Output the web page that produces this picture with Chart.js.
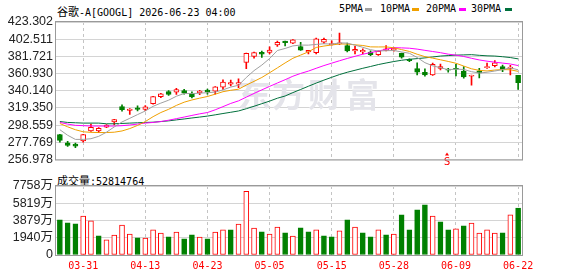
<!DOCTYPE html>
<html>
<head>
<meta charset="utf-8">
<script src="https://cdn.jsdelivr.net/npm/chart.js@4/dist/chart.umd.min.js"></script>
<style>
  html, body { margin: 0; padding: 0; background: #fff; }
  #wrap { position: relative; width: 578px; height: 276px; overflow: hidden; }
  canvas { position: absolute; left: 0; }
  .txt { position: absolute; font: 10px "DejaVu Sans Mono", monospace; color: #000; white-space: nowrap; line-height: 12px; }
  .cjk { font: 11px "Noto Sans CJK SC", sans-serif; }
  .sw { position: absolute; width: 7px; height: 3px; }
</style>
</head>
<body>
<div id="wrap">
  <div class="txt" style="left:57px; top:3px;"><span class="cjk">谷歌</span>-A[GOOGL] 2026-06-23 04:00</div>

  <div class="txt" style="left:339px; top:3px;">5PMA</div>
  <div class="sw" style="left:365px; top:8px; background:#a0a0a0;"></div>
  <div class="txt" style="left:380px; top:3px;">10PMA</div>
  <div class="sw" style="left:412px; top:8px; background:#f0a000;"></div>
  <div class="txt" style="left:426px; top:3px;">20PMA</div>
  <div class="sw" style="left:459px; top:8px; background:#ff00ff;"></div>
  <div class="txt" style="left:471px; top:3px;">30PMA</div>
  <div class="sw" style="left:505px; top:8px; background:#00703c;"></div>

  <canvas id="price" width="578" height="170" style="top:0;"></canvas>
  <div class="txt" style="left:57px; top:172px;"><span class="cjk">成交量</span>:52814764</div>
  <canvas id="vol" width="578" height="106" style="top:170px;"></canvas>
</div>

<script>
// ---- data ----
const dates = [
  "03-26","03-27","03-30","03-31","04-01","04-02","04-06","04-07","04-08","04-09",
  "04-10","04-13","04-14","04-15","04-16","04-17","04-20","04-21","04-22","04-23",
  "04-24","04-27","04-28","04-29","04-30","05-01","05-04","05-05","05-06","05-07",
  "05-08","05-11","05-12","05-13","05-14","05-15","05-18","05-19","05-20","05-21",
  "05-22","05-26","05-27","05-28","05-29","06-01","06-02","06-03","06-04","06-05",
  "06-08","06-09","06-10","06-11","06-12","06-15","06-16","06-17","06-18","06-22"
];
const xTickLabels = ["03-31","04-13","04-23","05-05","05-15","05-28","06-09","06-22"];

const open = [
  287.1,277.1,275.5,279.4,291.4,291.4,296.0,302.5,321.0,316.4,
  319.5,317.6,324.5,333.0,339.2,338.4,340.3,336.9,337.7,341.1,
  339.5,344.6,348.0,348.1,374.5,381.6,386.6,386.6,395.5,400.1,
  397.8,393.6,387.0,386.2,399.0,395.9,396.9,394.7,388.2,387.0,
  387.0,383.9,388.9,389.3,385.5,378.1,367.0,362.3,359.2,367.3,
  366.2,367.3,363.9,357.7,364.2,368.1,370.4,369.3,367.3,358.8
];
const high = [
  287.5,279.0,276.7,287.5,299.8,295.5,299.2,305.5,323.0,318.5,
  321.8,322.2,333.5,337.0,340.3,343.0,341.9,338.8,340.5,342.3,
  345.3,353.4,353.1,354.6,385.8,387.0,388.1,393.2,400.1,400.1,
  402.0,398.6,389.0,404.0,404.0,400.5,410.0,397.8,394.0,390.9,
  388.5,388.5,394.7,392.4,385.8,378.9,373.9,366.6,373.5,372.3,
  367.3,372.0,369.3,359.2,367.3,373.5,376.6,371.2,370.8,358.8
];
const low = [
  277.9,272.8,271.3,277.9,291.0,289.4,295.5,298.7,315.3,311.4,
  315.7,316.0,324.0,331.9,334.6,335.7,336.1,331.5,335.3,336.1,
  336.1,341.8,346.1,343.8,366.9,379.7,380.4,384.7,393.9,394.3,
  397.0,389.0,384.7,384.7,397.4,395.3,395.9,387.0,384.7,384.7,
  382.5,383.0,388.2,388.0,379.7,375.4,359.2,357.7,358.8,365.4,
  362.7,358.1,355.4,346.9,355.8,367.0,368.9,363.1,359.2,341.9
];
const close = [
  280.2,274.0,273.2,287.1,296.0,294.8,298.7,305.2,317.2,318.0,
  317.6,320.7,333.0,336.5,335.7,341.5,337.2,332.6,339.8,338.8,
  344.8,350.7,349.9,350.0,385.5,386.2,384.3,389.3,398.6,398.2,
  401.7,389.3,388.9,402.8,402.4,397.0,397.4,388.2,390.1,389.0,
  383.9,387.8,390.9,391.6,380.8,376.6,362.7,359.2,372.0,369.3,
  365.0,366.2,356.9,358.5,361.6,369.3,373.9,365.4,368.9,350.0
];

const ma5 = [
  293.0,286.3,281.3,281.3,282.1,285.0,290.0,296.4,302.4,306.8,
  311.3,315.7,321.3,325.2,328.7,333.5,336.8,336.7,337.2,337.8,
  338.5,341.2,344.6,346.8,356.2,364.5,371.2,379.1,388.8,391.3,
  394.4,395.4,395.3,396.2,397.0,396.5,398.0,397.8,395.3,392.7,
  389.8,388.2,388.6,388.8,387.1,385.5,380.4,374.1,370.3,368.0,
  365.6,366.3,365.9,363.2,361.6,362.5,364.0,365.7,367.8,365.5
];
const ma10 = [
  300.5,296.5,293.0,290.5,289.8,289.6,289.6,290.0,291.5,294.4,
  298.2,302.9,308.8,313.8,317.7,322.4,326.3,329.0,331.2,333.2,
  336.0,339.0,340.7,342.0,347.0,351.5,356.2,361.9,367.8,373.8,
  379.4,383.3,387.2,392.5,394.2,395.5,396.7,396.6,395.7,394.9,
  393.2,393.1,393.2,392.1,389.9,387.7,384.3,381.4,379.6,377.6,
  375.6,373.4,370.0,366.7,364.8,364.1,365.2,365.8,365.5,363.6
];
const ma20 = [
  301.8,299.8,298.3,297.9,297.5,297.5,297.5,297.5,297.9,298.7,
  299.8,301.0,301.8,302.9,304.5,306.4,308.3,310.3,312.2,313.8,
  317.1,320.9,324.8,327.9,332.4,336.9,341.2,345.4,349.5,353.5,
  357.7,361.1,363.9,367.3,370.6,373.5,376.4,379.2,381.8,384.3,
  386.3,388.2,390.2,392.3,392.0,391.6,390.5,389.0,387.6,386.2,
  384.4,383.2,381.6,379.4,377.4,375.9,374.7,373.6,372.5,370.6
];
const ma30 = [
  302.9,301.8,301.4,301.0,301.0,301.0,300.2,300.2,300.6,301.0,
  301.4,301.8,302.1,302.9,303.7,304.9,306.0,307.2,308.3,309.5,
  311.0,312.6,314.1,315.7,318.4,321.4,324.5,327.6,331.1,333.8,
  337.9,341.7,345.6,349.4,353.0,356.4,359.7,362.5,364.9,367.3,
  369.5,371.8,373.7,375.5,377.0,378.2,379.0,379.9,381.0,382.1,
  382.7,383.2,383.5,383.8,383.0,382.4,382.1,381.3,380.3,378.7
];

// volume in 万 shares
const volume = [
  3954,3618,3506,4364,3842,2163,1716,2238,3357,2350,
  1940,1902,2835,2462,2052,2574,1828,2275,2014,1828,
  2574,2835,2835,3469,7162,3021,2611,2350,3133,2499,
  2126,3059,2611,2835,2163,2052,2723,3954,3133,2499,
  2052,2835,2275,2350,4513,2835,5073,5632,4364,3730,
  2835,2947,3282,3581,2462,2835,2462,2499,4513,5281
];
// 1 = red (up) bar, 0 = green bar, as coloured in the picture
const volUp = [
  0,0,0,1,1,0,1,1,1,1, 0,1,1,1,0,1,0,0,1,0,
  1,1,0,1,1,1,0,1,1,0, 1,0,0,1,0,0,1,0,1,0,
  0,1,0,1,0,0,0,0,1,0, 0,1,0,1,1,1,1,0,1,0
];

const priceTicks = [256.978, 277.769, 298.559, 319.350, 340.140, 360.930, 381.721, 402.511, 423.302];
const volTicks = [0, 1940, 3879, 5819, 7758];
const splitIndex = 50;

// ---- styles ----
const RED = "#ff0000";
const GREEN = "#008000";
const GRID = "#d4d4d4";
const VGRID = "#c4c4c4";
const FRAME = "#9a9a9a";
const tickFont = { family: "'Liberation Sans', 'Noto Sans CJK SC', sans-serif", size: 12.5 };

const isUp = close.map((c, i) => c >= open[i]);

/* box around the plot area */
const frame = {
  id: "frame",
  afterDraw(chart) {
    const a = chart.chartArea, ctx = chart.ctx;
    ctx.save();
    ctx.strokeStyle = FRAME;
    ctx.lineWidth = 1;
    ctx.strokeRect(a.left - 0.5, a.top - 0.5, a.right - a.left + 1, a.bottom - a.top + 1);
    ctx.restore();
  }
};

/* faint logo text behind the candles */
const watermark = {
  id: "watermark",
  beforeDatasetsDraw(chart) {
    const ctx = chart.ctx;
    ctx.save();
    ctx.fillStyle = "#e4e4ea";
    ctx.font = "bold 33px 'Noto Sans CJK SC'";
    ctx.textBaseline = "middle";
    const chars = ["东", "方", "财", "富"];
    const xs = [238, 272, 308, 346];
    chars.forEach((c, i) => ctx.fillText(c, xs[i], 94));
    ctx.restore();
  }
};

/* the little red S marker under the candles */
const splitMark = {
  id: "splitMark",
  afterDatasetsDraw(chart) {
    const ctx = chart.ctx;
    const x = Math.round(chart.scales.x.getPixelForValue(splitIndex)) - 1;
    ctx.save();
    ctx.fillStyle = RED;
    ctx.beginPath();
    ctx.moveTo(x - 2, 155.5);
    ctx.lineTo(x + 2, 155.5);
    ctx.lineTo(x, 152.5);
    ctx.closePath();
    ctx.fill();
    ctx.font = "11px 'DejaVu Sans Mono'";
    ctx.textAlign = "center";
    ctx.textBaseline = "alphabetic";
    ctx.fillText("S", x, 165);
    ctx.restore();
  }
};

const xFilter = (s) => {
  s.ticks = s.ticks.filter((t) => xTickLabels.includes(dates[t.value]));
};

/* ---------------- price chart ---------------- */
new Chart(document.getElementById("price"), {
  type: "bar",
  data: {
    labels: dates,
    datasets: [
      { type: "line", data: ma5, borderColor: "#a0a0a0", borderWidth: 1, pointRadius: 0, order: 0 },
      { type: "line", data: ma10, borderColor: "#f0a000", borderWidth: 1, pointRadius: 0, order: 0 },
      { type: "line", data: ma20, borderColor: "#ff00ff", borderWidth: 1, pointRadius: 0, order: 0 },
      { type: "line", data: ma30, borderColor: "#00703c", borderWidth: 1, pointRadius: 0, order: 0 },
      {
        data: open.map((o, i) => [o, close[i]]),
        backgroundColor: isUp.map((u) => (u ? "#ffffff" : GREEN)),
        borderColor: isUp.map((u) => (u ? RED : GREEN)),
        borderWidth: 1,
        borderSkipped: false,
        barThickness: 5,
        minBarLength: 1,
        grouped: false,
        order: 1
      },
      {
        data: low.map((l, i) => [l, high[i]]),
        backgroundColor: isUp.map((u) => (u ? RED : GREEN)),
        borderWidth: 0,
        barThickness: 1,
        grouped: false,
        order: 2
      }
    ]
  },
  options: {
    responsive: false,
    devicePixelRatio: 1,
    animation: false,
    layout: { padding: { top: 22, right: 56, bottom: 5, left: 0 } },
    plugins: { legend: { display: false }, tooltip: { enabled: false } },
    scales: {
      x: {
        afterBuildTicks: xFilter,
        afterFit: (s) => { s.height = 0; },
        ticks: { display: false, autoSkip: false },
        grid: { color: VGRID, offset: false, drawTicks: false },
        border: { display: false, dash: [3, 3] }
      },
      y: {
        min: 256.978,
        max: 423.302,
        afterBuildTicks: (s) => { s.ticks = priceTicks.map((v) => ({ value: v })); },
        afterFit: (s) => { s.width = 56; },
        ticks: {
          autoSkip: false,
          callback: (v) => Number(v).toFixed(3),
          font: tickFont,
          color: "#222",
          padding: 3
        },
        grid: { color: GRID, drawTicks: false },
        border: { display: false }
      }
    }
  },
  plugins: [watermark, splitMark, frame]
});

/* ---------------- volume chart ---------------- */
new Chart(document.getElementById("vol"), {
  type: "bar",
  data: {
    labels: dates,
    datasets: [
      {
        data: volume,
        backgroundColor: volUp.map((u) => (u ? "#ffffff" : GREEN)),
        borderColor: volUp.map((u) => (u ? RED : GREEN)),
        borderWidth: 1,
        borderSkipped: false,
        barThickness: 5
      }
    ]
  },
  options: {
    responsive: false,
    devicePixelRatio: 1,
    animation: false,
    layout: { padding: { top: 16, right: 56, bottom: 0, left: 0 } },
    plugins: { legend: { display: false }, tooltip: { enabled: false } },
    scales: {
      x: {
        afterBuildTicks: xFilter,
        afterFit: (s) => { s.height = 21; },
        ticks: {
          autoSkip: false,
          maxRotation: 0,
          padding: 5,
          color: RED,
          font: { family: "'DejaVu Sans Mono', monospace", size: 10 }
        },
        grid: { color: VGRID, offset: false, drawTicks: false },
        border: { display: false, dash: [3, 3] }
      },
      y: {
        min: 0,
        max: 7758,
        afterBuildTicks: (s) => { s.ticks = volTicks.map((v) => ({ value: v })); },
        afterFit: (s) => { s.width = 56; },
        ticks: {
          autoSkip: false,
          callback: (v) => (v === 0 ? "0" : v + "万"),
          font: tickFont,
          color: "#222",
          padding: 3
        },
        grid: { color: GRID, drawTicks: false },
        border: { display: false }
      }
    }
  },
  plugins: [frame]
});
</script>
</body>
</html>
